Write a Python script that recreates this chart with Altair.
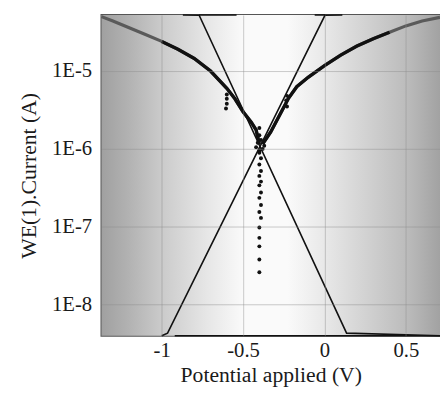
import altair as alt
import pandas as pd

# ---- data ----
cath_V = [-1.37, -1.3, -1.2, -1.1, -1.0, -0.9, -0.8, -0.7, -0.6, -0.55, -0.5, -0.45, -0.42, -0.40]
cath_I = [5.0e-5, 4.4e-5, 3.6e-5, 2.95e-5, 2.4e-5, 1.9e-5, 1.45e-5, 1.0e-5, 6.0e-6, 4.4e-6, 3.0e-6, 2.2e-6, 1.75e-6, 1.15e-6]
anod_V = [-0.38, -0.33, -0.28, -0.22, -0.17, -0.10, 0.0, 0.1, 0.2, 0.3, 0.4, 0.5, 0.6, 0.71]
anod_I = [1.15e-6, 1.65e-6, 2.6e-6, 4.5e-6, 6.3e-6, 8.3e-6, 1.17e-5, 1.6e-5, 2.1e-5, 2.6e-5, 3.15e-5, 3.8e-5, 4.4e-5, 4.9e-5]

scatter_V = [-0.40, -0.39, -0.40, -0.39, -0.40, -0.39, -0.40, -0.39, -0.40, -0.39, -0.40, -0.39, -0.40, -0.40, -0.40, -0.40, -0.40, -0.40,
             -0.41, -0.38, -0.40, -0.37, -0.42, -0.39, -0.40,
             -0.60, -0.60, -0.60, -0.605, -0.23, -0.235, -0.23]
scatter_I = [8.9e-7, 7.6e-7, 6.3e-7, 5.2e-7, 4.5e-7, 3.8e-7, 3.4e-7, 2.75e-7, 2.35e-7, 1.9e-7, 1.55e-7, 1.3e-7, 9.8e-8, 7.2e-8, 5.6e-8, 3.8e-8, 2.6e-8, 1.85e-6,
             1.2e-6, 1.0e-6, 9.5e-7, 1.1e-6, 1.05e-6, 1.3e-6, 1.5e-6,
             5.0e-6, 4.4e-6, 3.8e-6, 3.3e-6, 4.8e-6, 4.2e-6, 3.5e-6]

tafel_c_V = [-0.87, -0.77, 0.136, 0.71]
tafel_c_I = [1.5e-4, 5.2e-5, 4.3e-9, 1e-11]
tafel_a_V = [-1.0, -0.964, 0.003, 0.11]
tafel_a_I = [1e-11, 4.3e-9, 5.2e-5, 1.5e-4]
offscale_bottom_V = [-0.92, 0.71]
offscale_bottom_I = [1e-12, 1e-12]
offscale_top_V = [-0.77, -0.54, -0.06, 0.003]
offscale_top_I = [1e-3, 1e-3, 1e-3, 1e-3]

x_ticks = [-1, -0.5, 0, 0.5]
y_ticks = [1e-8, 1e-7, 1e-6, 1e-5]
x_domain = [-1.37, 0.71]
y_domain = [10 ** -8.4, 10 ** -4.28]

# ---- tables ----
curve = pd.DataFrame({
    "V": cath_V + anod_V,
    "I": cath_I + anod_I,
    "branch": ["cathodic"] * len(cath_V) + ["anodic"] * len(anod_V),
})
scatter = pd.DataFrame({"V": scatter_V, "I": scatter_I})
tafel = pd.DataFrame({
    "V": tafel_c_V + tafel_a_V + offscale_bottom_V + offscale_top_V,
    "I": tafel_c_I + tafel_a_I + offscale_bottom_I + offscale_top_I,
    "s": ["c"] * 4 + ["a"] * 4 + ["b"] * 2 + ["t1", "t1", "t2", "t2"],
})
bg = pd.DataFrame({"x1": [x_domain[0]], "x2": [x_domain[1]], "y1": [y_domain[0]], "y2": [y_domain[1]]})

xs = alt.Scale(domain=x_domain, nice=False, zero=False)
ys = alt.Scale(type="log", domain=y_domain, nice=False, clamp=True)

serif = "'Liberation Serif', 'Times New Roman', 'DejaVu Serif', serif"
xaxis = alt.Axis(values=x_ticks, title="Potential applied (V)", grid=True,
                 labelExpr="datum.value == 0 ? '0' : '' + datum.value",
                 labelPadding=4, titlePadding=4, titleFontSize=22,
                 tickSize=0, domain=False, zindex=1)
yaxis = alt.Axis(values=y_ticks, title="WE(1).Current (A)", grid=True,
                 labelExpr="'1E' + round(log(datum.value) / LN10)",
                 labelPadding=10, titlePadding=11, titleFontSize=22,
                 tickSize=0, domain=False, zindex=1)

grad = alt.Gradient(
    gradient="linear", x1=0, x2=1, y1=0, y2=0,
    stops=[
        alt.GradientStop(color="#a0a0a0", offset=0.0),
        alt.GradientStop(color="#b2b2b2", offset=0.08),
        alt.GradientStop(color="#cbcbcb", offset=0.18),
        alt.GradientStop(color="#e6e6e6", offset=0.31),
        alt.GradientStop(color="#fafafa", offset=0.42),
        alt.GradientStop(color="#fafafa", offset=0.55),
        alt.GradientStop(color="#e8e8e8", offset=0.66),
        alt.GradientStop(color="#d2d2d2", offset=0.78),
        alt.GradientStop(color="#bcbcbc", offset=0.9),
        alt.GradientStop(color="#a2a2a2", offset=1.0),
    ],
)

background = alt.Chart(bg).mark_rect(fill=grad).encode(
    x=alt.X("x1:Q", scale=xs, axis=xaxis),
    x2="x2:Q",
    y=alt.Y("y1:Q", scale=ys, axis=yaxis),
    y2="y2:Q",
)

curve_outer = alt.Chart(curve).mark_line(color="#5a5a5a", strokeWidth=3.2).encode(
    x=alt.X("V:Q", scale=xs), y=alt.Y("I:Q", scale=ys), detail="branch:N")
curve_inner = alt.Chart(curve).transform_filter(
    (alt.datum.V >= -1.0) & (alt.datum.V <= 0.4)
).mark_line(color="#111111", strokeWidth=3.4).encode(
    x=alt.X("V:Q", scale=xs), y=alt.Y("I:Q", scale=ys), detail="branch:N")

tafel_lines = alt.Chart(tafel).mark_line(color="#111111", strokeWidth=1.6).encode(
    x=alt.X("V:Q", scale=xs), y=alt.Y("I:Q", scale=ys), detail="s:N")

points = alt.Chart(scatter).mark_point(filled=True, color="#111111", size=16, opacity=1).encode(
    x=alt.X("V:Q", scale=xs), y=alt.Y("I:Q", scale=ys))

chart = alt.layer(background, curve_outer, curve_inner, tafel_lines, points).properties(
    width=344, height=326,
    autosize=alt.AutoSizeParams(type="none"),
    padding={"left": 95, "top": 4, "right": 0, "bottom": 50},
).configure_view(
    stroke="#555555", strokeWidth=2
).configure_axis(
    labelFont=serif, titleFont=serif, labelFontSize=21, titleFontSize=22,
    labelColor="#1a1a1a", titleColor="#1a1a1a", titleFontWeight="normal",
    gridColor="#8a8a8a", gridOpacity=0.45, gridWidth=1,
)

chart.save("out.html", embed_options={"renderer": "svg", "actions": False})
